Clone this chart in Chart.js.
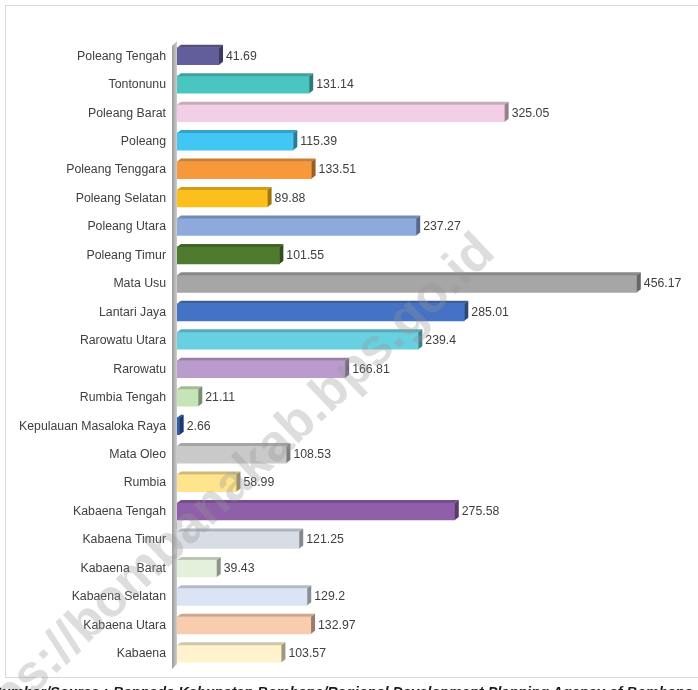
<!DOCTYPE html>
<html>
<head>
<meta charset="utf-8">
<script src="https://cdn.jsdelivr.net/npm/chart.js@4.4.1/dist/chart.umd.min.js"></script>
<style>
  body { margin: 0; background: #fff; overflow: hidden; }
  #wrap { position: relative; width: 698px; height: 690px; overflow: hidden; }
  .src { position: absolute; top: 685px; font: italic bold 14.5px "Liberation Sans", Arial, sans-serif; color: #1a1a1a; white-space: nowrap; line-height: 14.5px; }
</style>
</head>
<body>
<div id="wrap">
  <canvas id="chart" width="698" height="690"></canvas>
  <div class="src" style="right: 590px;">Sumber/Source :</div>
  <div class="src" style="left: 113px;">Bappeda Kabupaten Bombana/Regional Development Planning Agency of Bombana Regency</div>
</div>
<script>
const categories = [
  'Poleang Tengah', 'Tontonunu', 'Poleang Barat', 'Poleang', 'Poleang Tenggara',
  'Poleang Selatan', 'Poleang Utara', 'Poleang Timur', 'Mata Usu', 'Lantari Jaya',
  'Rarowatu Utara', 'Rarowatu', 'Rumbia Tengah', 'Kepulauan Masaloka Raya', 'Mata Oleo',
  'Rumbia', 'Kabaena Tengah', 'Kabaena Timur', 'Kabaena  Barat', 'Kabaena Selatan',
  'Kabaena Utara', 'Kabaena'
];
const values = [
  41.69, 131.14, 325.05, 115.39, 133.51,
  89.88, 237.27, 101.55, 456.17, 285.01,
  239.4, 166.81, 21.11, 2.66, 108.53,
  58.99, 275.58, 121.25, 39.43, 129.2,
  132.97, 103.57
];
const barColors = [
  '#615e9b', '#4bc5c1', '#f2cfe5', '#42c6f3', '#f7983a',
  '#fcbf1c', '#8eaadc', '#4f7b2e', '#a6a6a6', '#4472c4',
  '#69d0e1', '#b99bce', '#c6e5b6', '#2f5fa9', '#c9c9c9',
  '#fee48c', '#8f5fa9', '#d7dde5', '#e3f0db', '#dbe4f4',
  '#f9ccae', '#fff3cd'
];

const labelFont = '"Liberation Sans", Arial, sans-serif';

function shade(hex, f) {
  const n = parseInt(hex.slice(1), 16);
  const r = Math.round(((n >> 16) & 255) * f);
  const g = Math.round(((n >> 8) & 255) * f);
  const b = Math.round((n & 255) * f);
  return 'rgb(' + r + ',' + g + ',' + b + ')';
}

const DX = 4, DY = 3;

const bars3d = {
  id: 'bars3d',
  beforeDraw(chart) {
    const c = chart.ctx;
    c.save();
    c.fillStyle = '#fff';
    c.fillRect(0, 0, chart.width, chart.height);
    c.strokeStyle = '#d9d9d9';
    c.lineWidth = 1;
    c.strokeRect(5.5, 5.5, 700, 672);
    c.restore();
  },
  beforeDatasetsDraw(chart) {
    const c = chart.ctx;
    const a = chart.chartArea;
    // side wall of the axis
    c.save();
    const grad = c.createLinearGradient(a.left - 5, 0, a.left, 0);
    grad.addColorStop(0, '#9a9a9a');
    grad.addColorStop(1, '#cfcfcf');
    c.fillStyle = grad;
    c.beginPath();
    c.moveTo(a.left - 5, a.top + 4);
    c.lineTo(a.left, a.top - 1);
    c.lineTo(a.left, a.bottom - 4);
    c.lineTo(a.left - 5, a.bottom + 1);
    c.closePath();
    c.fill();
    c.restore();
  },
  afterDatasetsDraw(chart) {
    const c = chart.ctx;
    const meta = chart.getDatasetMeta(0);
    c.save();
    meta.data.forEach((bar, i) => {
      const p = bar.getProps(['x', 'y', 'base', 'height'], true);
      const top = p.y - p.height / 2;
      const bot = p.y + p.height / 2;
      const col = barColors[i];
      // top face
      c.fillStyle = shade(col, 0.82);
      c.beginPath();
      c.moveTo(p.base, top);
      c.lineTo(p.x, top);
      c.lineTo(p.x + DX, top - DY);
      c.lineTo(p.base + DX, top - DY);
      c.closePath();
      c.fill();
      // side face
      c.fillStyle = shade(col, 0.62);
      c.beginPath();
      c.moveTo(p.x, top);
      c.lineTo(p.x + DX, top - DY);
      c.lineTo(p.x + DX, bot - DY);
      c.lineTo(p.x, bot);
      c.closePath();
      c.fill();
      // value label
      c.fillStyle = '#404040';
      c.font = '12.3px ' + labelFont;
      c.textAlign = 'left';
      c.textBaseline = 'middle';
      c.fillText(String(values[i]), p.x + DX + 3, p.y);
    });
    c.restore();
  },
  afterDraw(chart) {
    const c = chart.ctx;
    c.save();
    c.translate(497, 255);
    c.rotate(-43.5 * Math.PI / 180);
    c.font = 'bold 52px "Liberation Sans", Arial, sans-serif';
    c.fillStyle = 'rgba(150,150,150,0.32)';
    c.textAlign = 'right';
    c.textBaseline = 'alphabetic';
    c.fillText('https://bombanakab.bps.go.id', 0, 0);
    c.restore();
  }
};

new Chart(document.getElementById('chart').getContext('2d'), {
  type: 'bar',
  data: {
    labels: categories,
    datasets: [{
      data: values,
      backgroundColor: barColors,
      borderWidth: 0,
      barThickness: 17
    }]
  },
  options: {
    indexAxis: 'y',
    responsive: false,
    animation: false,
    layout: { padding: { top: 42, bottom: 22, right: 17, left: 0 } },
    plugins: {
      legend: { display: false },
      tooltip: { enabled: false }
    },
    scales: {
      x: {
        display: false,
        min: 0,
        max: 500
      },
      y: {
        afterFit: function (scale) { scale.width = 177; },
        grid: { display: false, drawTicks: false },
        border: { display: false },
        ticks: {
          color: '#404040',
          padding: 11,
          font: { family: labelFont, size: 12.3 }
        }
      }
    }
  },
  plugins: [bars3d]
});
</script>
</body>
</html>
